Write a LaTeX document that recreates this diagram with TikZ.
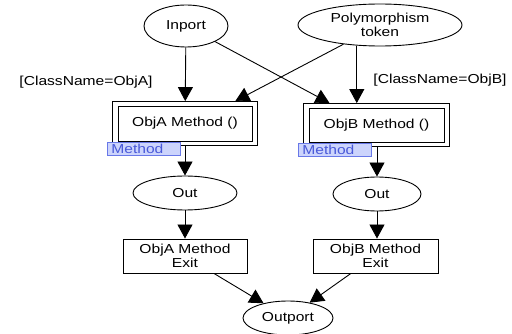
\documentclass[tikz,border=0pt]{standalone}
\usepackage{fontspec}
\setmainfont{Liberation Sans}[FakeStretch=1.2]
\usetikzlibrary{shapes.geometric,arrows.meta,fit}

\definecolor{tagfill}{RGB}{204,212,252}
\definecolor{tagdraw}{RGB}{104,120,232}
\definecolor{tagtext}{RGB}{72,88,216}

\tikzset{
  base/.style={font=\fontsize{13}{14}\selectfont, line width=0.9pt},
  place/.style={base, draw, ellipse, inner sep=0pt, align=center},
  trans/.style={base, draw, rectangle, inner sep=0pt, align=center},
  frame/.style={draw, line width=0.9pt, inner xsep=5pt, inner ysep=4pt},
  tag/.style={font=\fontsize{13}{14}\selectfont, draw=tagdraw, fill=tagfill, text=tagtext,
    line width=0.7pt, inner xsep=4pt, inner ysep=0pt, text width=65pt, align=left,
    minimum height=13pt, anchor=north west},
  guard/.style={font=\fontsize{13}{14}\selectfont, inner sep=0pt},
  arc/.style={line width=0.9pt, -{Triangle[length=14pt,width=15pt]}}
}

\begin{document}
\begin{tikzpicture}[x=1pt, y=-1pt]
  \useasboundingbox (0,0) rectangle (512,334);

  % input places
  \node[place, minimum width=84pt, minimum height=42pt] (inport) at (186,26) {Inport};
  \node[place, minimum width=164pt, minimum height=42pt] (poly) at (380,25) {Polymorphism\\token};

  % substitution transitions for the two classes (inner box plus outer frame)
  \node[trans, minimum width=134pt, minimum height=35pt] (ma) at (185,123.5) {ObjA Method ()};
  \node[frame, fit=(ma)] (mao) {};
  \node[trans, minimum width=135pt, minimum height=34pt] (mb) at (376.5,125) {ObjB Method ()};
  \node[frame, fit=(mb)] (mbo) {};
  \node[tag] (taga) at (107,142) {Method};
  \node[tag] (tagb) at (298,143) {Method};

  % guards
  \node[guard] (ga) at (86,82) {[ClassName=ObjA]};
  \node[guard] (gb) at (440,80) {[ClassName=ObjB]};

  % output places of the methods
  \node[place, minimum width=104pt, minimum height=34pt] (outa) at (185,193) {Out};
  \node[place, minimum width=88pt, minimum height=34pt] (outb) at (377,194) {Out};

  % exit transitions
  \node[trans, minimum width=124pt, minimum height=34pt] (exa) at (185,256) {ObjA Method\\Exit};
  \node[trans, minimum width=125pt, minimum height=34pt] (exb) at (375.5,256) {ObjB Method\\Exit};

  % final place
  \node[place, minimum width=90pt, minimum height=34pt] (outp) at (288,318) {Outport};

  % arcs
  \draw[arc] (inport) -- (mao);
  \draw[arc] (poly) -- (mao.24);
  \draw[arc] (inport) -- (mbo.155);
  \draw[arc] (mbo.132 |- poly.south) -- (mbo.132);
  \draw[arc] (mao.south -| outa) -- (outa);
  \draw[arc] (mbo.south -| outb) -- (outb);
  \draw[arc] (outa) -- (exa);
  \draw[arc] (outb) -- (exb.north -| outb);
  \draw[arc] (exa) -- (outp);
  \draw[arc] (exb) -- (outp);
\end{tikzpicture}
\end{document}
